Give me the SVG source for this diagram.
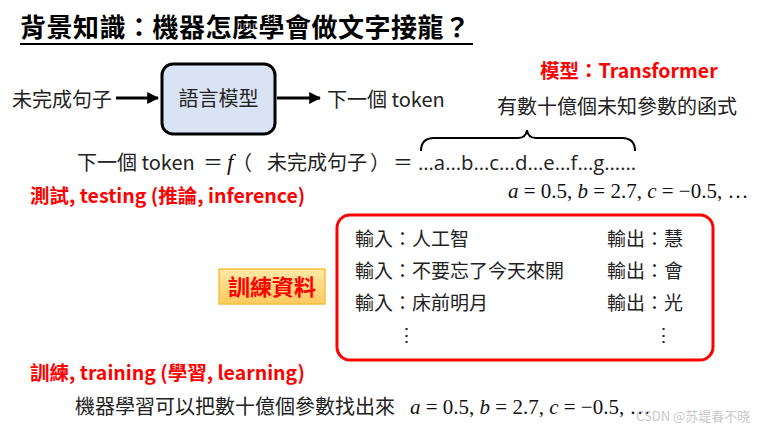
<svg xmlns="http://www.w3.org/2000/svg" width="769" height="431" viewBox="0 0 769 431">
<defs>
<style>
text{font-family:"Noto Sans CJK TC","Noto Sans",sans-serif;fill:#222;}
.b{font-size:20px;}
.lat{font-family:"Open Sans","Noto Sans",sans-serif;font-size:20px;fill:#222;}
.r{font-size:19.5px;font-weight:bold;fill:#ff0000;}
.m{font-family:"Liberation Serif","DejaVu Serif",serif;font-size:21px;fill:#111;}
.i{font-style:italic;}
.row{font-size:19px;fill:#222;}
</style>
<marker id="ah" viewBox="0 0 10 10" refX="9" refY="5" markerWidth="4" markerHeight="4" orient="auto" markerUnits="strokeWidth">
<path d="M0,0 L10,5 L0,10 z" fill="#000"/>
</marker>
<linearGradient id="og" x1="0" y1="0" x2="0" y2="1">
<stop offset="0" stop-color="#ffe9a8"/>
<stop offset="1" stop-color="#ffc95e"/>
</linearGradient>
</defs>
<rect width="769" height="431" fill="#fff"/>

<g id="title">
<text x="20" y="37" textLength="450" style="font-size:26px;font-weight:bold;fill:#000">背景知識：機器怎麼學會做文字接龍？</text>
<line x1="20" y1="44" x2="473" y2="44" stroke="#000" stroke-width="2"/>
</g>

<g id="input"><text class="b" x="12" y="107">未完成句子</text></g>
<g id="model">
<rect x="162" y="64" width="113" height="70" rx="11" fill="#dae3f3" stroke="#000" stroke-width="3"/>
<text class="b" x="218.5" y="106" text-anchor="middle">語言模型</text>
</g>
<g id="output"><text class="b" x="327" y="107">下一個 token</text></g>

<g id="connectors">
<line x1="116" y1="98" x2="158" y2="98" stroke="#000" stroke-width="3" marker-end="url(#ah)"/>
<line x1="277" y1="98" x2="320" y2="98" stroke="#000" stroke-width="3" marker-end="url(#ah)"/>
</g>

<g id="transformer"><text class="r" x="540" y="78">模型：Transformer</text></g>
<g id="function-note"><text class="b" x="497" y="114">有數十億個未知參數的函式</text></g>
<path d="M421,151 Q421,138 434,138 L518,138 Q526,138 527,130 Q528,138 536,138 L622,138 Q635,138 635,151" fill="none" stroke="#000" stroke-width="2"/>

<g id="equation">
<text class="b" x="77" y="170">下一個 token</text>
<text class="b" x="203" y="170">＝</text>
<text class="m i" x="227" y="170" style="font-size:23px">f</text>
<text class="b" x="232" y="170">（</text>
<text class="b" x="267" y="170">未完成句子</text>
<text class="b" x="370" y="170">）</text>
<text class="b" x="393" y="170">＝</text>
<text class="lat" x="418" y="170" textLength="218" lengthAdjust="spacingAndGlyphs">…a…b…c…d…e…f…g……</text>
</g>
<g id="params-top"><text class="m" x="508" y="198"><tspan class="i">a</tspan> = 0.5, <tspan class="i">b</tspan> = 2.7, <tspan class="i">c</tspan> = −0.5, …</text></g>

<g id="testing"><text class="r" x="30" y="203">測試, testing (推論, inference)</text></g>

<g id="training-data-label">
<rect x="219" y="269" width="106" height="35" fill="url(#og)" stroke="#f5c242" stroke-width="1.5"/>
<text x="272" y="295" text-anchor="middle" style="font-size:22px;font-weight:bold;fill:#ff0000">訓練資料</text>
</g>

<g id="training-data">
<rect x="337" y="215" width="376" height="145" rx="13" fill="#fff" stroke="#ff0000" stroke-width="3"/>
<text class="row" x="355" y="246">輸入：人工智</text>
<text class="row" x="355" y="278">輸入：不要忘了今天來開</text>
<text class="row" x="355" y="310">輸入：床前明月</text>
<text class="row" x="397" y="342">⋮</text>
<text class="row" x="607" y="246">輸出：慧</text>
<text class="row" x="607" y="278">輸出：會</text>
<text class="row" x="607" y="310">輸出：光</text>
<text class="row" x="654" y="342">⋮</text>
</g>

<g id="training"><text class="r" x="30" y="380">訓練, training (學習, learning)</text></g>
<g id="training-desc">
<text class="b" x="75" y="414">機器學習可以把數十億個參數找出來</text>
<text class="m" x="410" y="414"><tspan class="i">a</tspan> = 0.5, <tspan class="i">b</tspan> = 2.7, <tspan class="i">c</tspan> = −0.5, …</text>
</g>

<text x="636" y="421" style="font-size:13px;fill:#c8c8c8">CSDN @苏堤春不晓</text>
</svg>
